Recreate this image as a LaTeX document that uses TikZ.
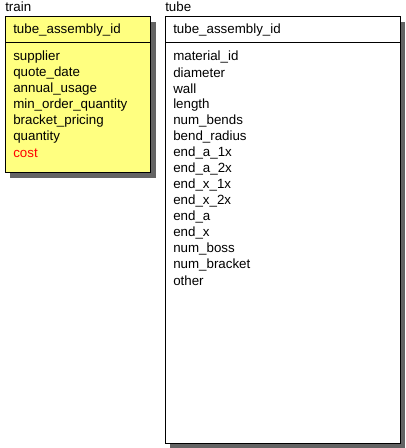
\documentclass[tikz,border=0pt]{standalone}
\usepackage{fontspec}
\setmainfont{Liberation Sans}
\usepackage{xcolor}
\usetikzlibrary{positioning}
\definecolor{boxyellow}{RGB}{255,255,128}
\definecolor{shadowgray}{RGB}{100,100,100}

\begin{document}
\begin{tikzpicture}[x=0.75pt,y=-0.75pt]
\tikzstyle{every node}+=[inner sep=0pt,font=\fontsize{10}{12}\selectfont]
\tikzstyle{field}=[anchor=west]
\tikzstyle{entity}=[draw=black,line width=0.75pt]
\useasboundingbox (0,0) rectangle (405,448);
% train
\fill [shadowgray] (10,22) rectangle (155.5,178.5);
\path [entity,fill=boxyellow] (5,17) rectangle (150,173);
\draw [black,line width=0.75pt] (5,43) -- (150,43);
\node [field] (train) at (5,7) {train};
\node [field] (trainkey) at (13,30) {tube\_assembly\_id};
\node [field] (supplier) at (13,57) {supplier};
\node [field] (quotedate) at (13,73) {quote\_date};
\node [field] (annualusage) at (13,89) {annual\_usage};
\node [field] (minorder) at (13,105) {min\_order\_quantity};
\node [field] (bracketpricing) at (13,121) {bracket\_pricing};
\node [field] (quantity) at (13,137) {quantity};
\node [field,text=red] (cost) at (13,153) {cost};
% tube
\fill [shadowgray] (170,22) rectangle (405,448);
\path [entity,fill=white] (165,17) rectangle (400,443);
\draw [black,line width=0.75pt] (165,43) -- (400,43);
\node [field] (tube) at (165,7) {tube};
\node [field] (tubekey) at (173,30) {tube\_assembly\_id};
\foreach \name [count=\i from 0] in {material\_id,diameter,wall,length,num\_bends,bend\_radius,end\_a\_1x,end\_a\_2x,end\_x\_1x,end\_x\_2x,end\_a,end\_x,num\_boss,num\_bracket,other}
  \node [field] (tubefield\i) at (173,57+16*\i) {\name};
\end{tikzpicture}
\end{document}
